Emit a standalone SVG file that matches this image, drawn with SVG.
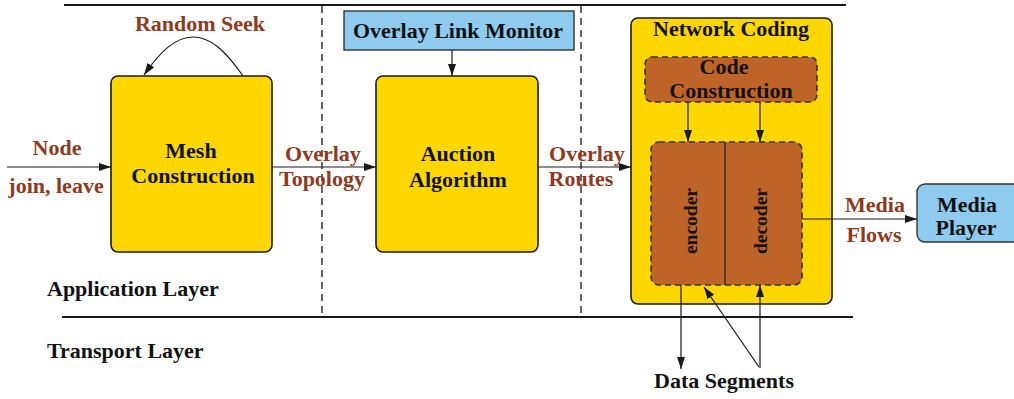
<svg xmlns="http://www.w3.org/2000/svg" width="1014" height="399" viewBox="0 0 1014 399">
<style>
text{font-family:"Liberation Serif","Times New Roman",serif;font-weight:bold;font-size:22px;text-anchor:middle}
.lbl{fill:#8E3A1F}
.blk{fill:#111}
.yel{fill:#FFD700;stroke:#1a1a1a;stroke-width:1.6}
.blue{fill:#8FCBEF;stroke:#333;stroke-width:1.4}
.brown{fill:#BF6428;stroke:#333;stroke-width:1.6;stroke-dasharray:6 4}
.ln{stroke:#1a1a1a;stroke-width:1.2;fill:none}
.rule{stroke:#1a1a1a;stroke-width:1.8}
.dash{stroke:#000;stroke-width:1.2;stroke-dasharray:7 5}
</style>
<defs>
<marker id="ah" markerWidth="12" markerHeight="8" refX="12" refY="4" orient="auto" markerUnits="userSpaceOnUse">
<path d="M0,0 L12,4 L0,8 Z" fill="#1a1a1a"/>
</marker>
</defs>
<rect width="1014" height="399" fill="#fff"/>
<g id="layers">
<line class="rule" x1="64" y1="5" x2="846" y2="5"/>
<line class="rule" x1="62" y1="317" x2="853" y2="317"/>
<line class="dash" x1="322" y1="6" x2="322" y2="317"/>
<line class="dash" x1="581" y1="6" x2="581" y2="317"/>
<text class="blk" x="47" y="296" style="text-anchor:start">Application Layer</text>
<text class="blk" x="47" y="358" style="text-anchor:start">Transport Layer</text>
</g>
<g id="mesh">
<rect class="yel" x="111" y="76" width="161" height="176" rx="7"/>
<text class="blk" x="191" y="158">Mesh</text>
<text class="blk" x="193" y="183">Construction</text>
</g>
<g id="auction">
<rect class="yel" x="376" y="76" width="162" height="176" rx="7"/>
<text class="blk" x="458" y="161">Auction</text>
<text class="blk" x="458" y="187">Algorithm</text>
</g>
<g id="monitor">
<rect class="blue" x="344" y="11" width="230" height="39"/>
<text class="blk" x="458" y="38">Overlay Link Monitor</text>
</g>
<g id="netcoding">
<rect class="yel" x="631" y="18" width="201" height="286" rx="7"/>
<text class="blk" x="731" y="36">Network Coding</text>
</g>
<g id="codecons">
<rect class="brown" x="645" y="57" width="172" height="45" rx="7"/>
<text class="blk" x="724" y="74">Code</text>
<text class="blk" x="731" y="98">Construction</text>
</g>
<g id="codec">
<rect class="brown" x="651" y="142" width="151" height="143" rx="8"/>
<line class="ln" x1="725" y1="142" x2="725" y2="285"/>
<text class="blk" style="font-size:19.5px" transform="translate(697,221) rotate(-90)">encoder</text>
<text class="blk" style="font-size:19.5px" transform="translate(767,221) rotate(-90)">decoder</text>
</g>
<g id="player">
<rect class="blue" x="917" y="184" width="104" height="58" rx="8"/>
<text class="blk" x="967" y="212">Media</text>
<text class="blk" x="966" y="235">Player</text>
</g>
<g id="connectors">
<path class="ln" d="M243,76 C225,50 210,37 193,37 C175,37 160,52 144,75" marker-end="url(#ah)"/>
<line class="ln" x1="7" y1="167" x2="111" y2="167" marker-end="url(#ah)"/>
<line class="ln" x1="272" y1="167" x2="376" y2="167" marker-end="url(#ah)"/>
<line class="ln" x1="538" y1="167" x2="631" y2="167" marker-end="url(#ah)"/>
<line class="ln" x1="452" y1="50" x2="452" y2="76" marker-end="url(#ah)"/>
<line class="ln" x1="688" y1="102" x2="688" y2="142" marker-end="url(#ah)"/>
<line class="ln" x1="760" y1="102" x2="760" y2="142" marker-end="url(#ah)"/>
<line class="ln" x1="802" y1="219" x2="917" y2="219" marker-end="url(#ah)"/>
<line class="ln" x1="681" y1="285" x2="681" y2="369" marker-end="url(#ah)"/>
<line class="ln" x1="760" y1="368" x2="760" y2="285" marker-end="url(#ah)"/>
<line class="ln" x1="759" y1="367" x2="704" y2="287" marker-end="url(#ah)"/>
<text class="lbl" x="200" y="31">Random Seek</text>
<text class="lbl" x="57" y="155">Node</text>
<text class="lbl" x="56" y="193">join, leave</text>
<text class="lbl" x="323" y="161">Overlay</text>
<text class="lbl" x="322" y="186">Topology</text>
<text class="lbl" x="587" y="161">Overlay</text>
<text class="lbl" x="581" y="186">Routes</text>
<text class="lbl" x="875" y="212">Media</text>
<text class="lbl" x="874" y="242">Flows</text>
<text class="blk" x="724" y="388">Data Segments</text>
</g>
</svg>
